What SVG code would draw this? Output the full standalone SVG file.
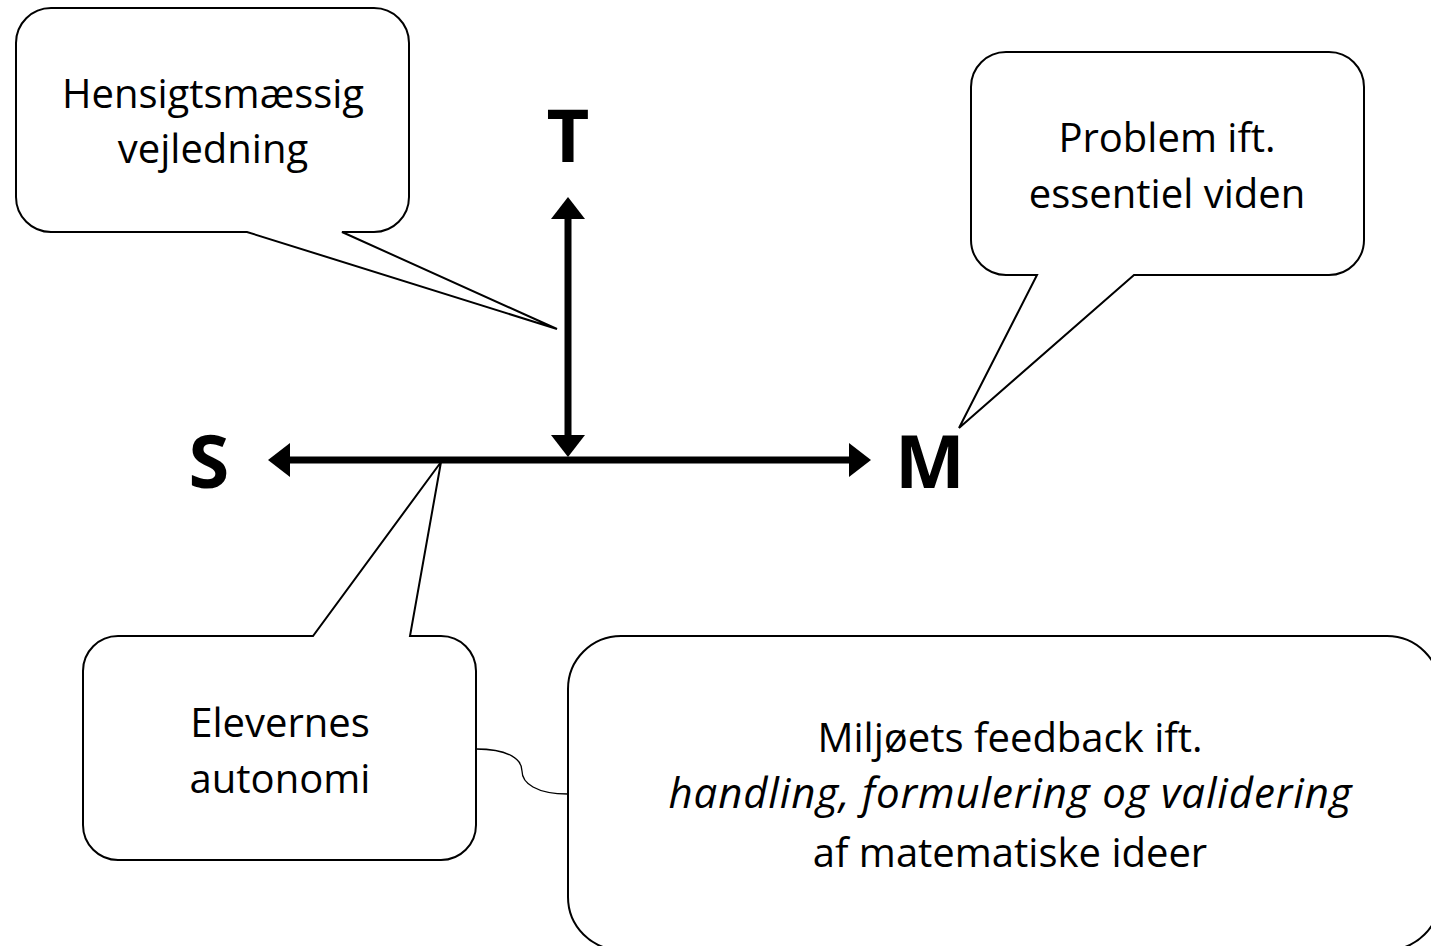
<svg xmlns="http://www.w3.org/2000/svg" width="1431" height="946" viewBox="0 0 1431 946">
<style>
.bubble{fill:#fff;stroke:#000;stroke-width:2;stroke-linejoin:miter}
.txt{font-family:"Open Sans","Liberation Sans",sans-serif;font-size:40px;fill:#000;text-anchor:middle}
.it{font-style:italic;font-size:42px}
.big{font-family:"Open Sans","Liberation Sans",sans-serif;font-size:74px;font-weight:bold;fill:#000;text-anchor:middle}
.axis{stroke:#000;stroke-width:7;fill:none}
.thin{stroke:#000;stroke-width:1.3;fill:none}
</style>
<defs>
<marker id="head" markerUnits="userSpaceOnUse" viewBox="0 -17 22 34" refX="1" refY="0" markerWidth="22" markerHeight="34" orient="auto-start-reverse">
<path d="M0,-17 L22,0 L0,17 Z" fill="#000"/>
</marker>
</defs>
<rect width="1431" height="946" fill="#fff"/>
<g id="connectors">
<line class="axis" x1="289" y1="460" x2="850" y2="460" marker-start="url(#head)" marker-end="url(#head)"/>
<line class="axis" x1="568" y1="218" x2="568" y2="436" marker-start="url(#head)" marker-end="url(#head)"/>
<path class="thin" d="M476,749 C510,749 522,760 522,771 C522,783 536,794 568,794"/>
</g>
<g id="label-T"><text class="big" x="568" y="162">T</text></g>
<g id="label-S"><text class="big" x="209" y="488">S</text></g>
<g id="label-M"><text class="big" x="930" y="488">M</text></g>
<g id="callout-vejledning">
<path class="bubble" d="M51,8 H374 A35,35 0 0 1 409,43 V197 A35,35 0 0 1 374,232 H342 L557,329 L247,232 H51 A35,35 0 0 1 16,197 V43 A35,35 0 0 1 51,8 Z"/>
<text class="txt" x="213" y="108">Hensigtsmæssig</text>
<text class="txt" x="213" y="163">vejledning</text>
</g>
<g id="callout-problem">
<path class="bubble" d="M1006,52 H1329 A35,35 0 0 1 1364,87 V240 A35,35 0 0 1 1329,275 H1134 L959,428 L1037,275 H1006 A35,35 0 0 1 971,240 V87 A35,35 0 0 1 1006,52 Z"/>
<text class="txt" x="1167" y="152">Problem ift.</text>
<text class="txt" x="1167" y="208">essentiel viden</text>
</g>
<g id="callout-autonomi">
<path class="bubble" d="M118,636 H313 L441,462 L410,636 H441 A35,35 0 0 1 476,671 V825 A35,35 0 0 1 441,860 H118 A35,35 0 0 1 83,825 V671 A35,35 0 0 1 118,636 Z"/>
<text class="txt" x="280" y="737">Elevernes</text>
<text class="txt" x="280" y="793">autonomi</text>
</g>
<g id="box-feedback">
<rect class="bubble" x="568" y="636" width="872" height="314" rx="53" ry="53"/>
<text class="txt" x="1010" y="752">Miljøets feedback ift.</text>
<text class="txt it" x="1010" y="808" textLength="683" lengthAdjust="spacing">handling, formulering og validering</text>
<text class="txt" x="1010" y="867">af matematiske ideer</text>
</g>
</svg>
